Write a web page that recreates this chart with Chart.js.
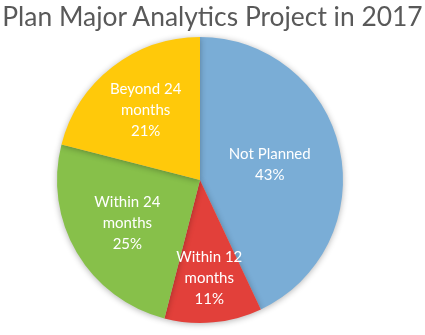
<!DOCTYPE html>
<html>
<head>
<meta charset="utf-8">
<script src="https://cdn.jsdelivr.net/npm/chart.js@4"></script>
<style>
  body { margin: 0; background: #fff; }
  #wrap { position: relative; width: 425px; height: 335px; }
  #title {
    position: absolute; left: 0; top: 0; width: 425px;
    text-align: center; font-family: Lato, sans-serif; font-size: 26.4px;
    line-height: 32px; color: #595959; white-space: nowrap;
  }
  #chart { position: absolute; left: 0; top: 0; }
</style>
</head>
<body>
<div id="wrap">
  <canvas id="chart" width="425" height="335"></canvas>
  <div id="title">Plan Major Analytics Project in 2017</div>
</div>
<script>
// Survey shares, clockwise from 12 o'clock
const categories = ['Not Planned', 'Within 12 months', 'Within 24 months', 'Beyond 24 months'];
const labelLines = [['Not Planned'], ['Within 12', 'months'], ['Within 24', 'months'], ['Beyond 24', 'months']];
const shares = [43, 11, 25, 21];
const sliceColors = ['#7AADD6', '#E2403A', '#87C04A', '#FFC90A'];

// how far out each label sits, as a fraction of the radius
const labelRadius = [0.5, 0.69, 0.59, 0.62];

// soft shadow under the pie
const pieShadow = {
    id: 'pieShadow',
    beforeDatasetDraw(chart) {
        const ctx = chart.ctx;
        ctx.save();
        ctx.shadowColor = 'rgba(0,0,0,0.3)';
        ctx.shadowBlur = 6;
        ctx.shadowOffsetY = 1;
    },
    afterDatasetDraw(chart) {
        chart.ctx.restore();
    }
};

// white labels with category and percentage inside each slice
const sliceLabels = {
    id: 'sliceLabels',
    afterDatasetsDraw(chart) {
        const ctx = chart.ctx;
        const meta = chart.getDatasetMeta(0);
        ctx.save();
        ctx.fillStyle = '#fff';
        ctx.font = '15px Lato, sans-serif';
        ctx.textAlign = 'center';
        ctx.textBaseline = 'middle';
        meta.data.forEach((arc, i) => {
            const mid = (arc.startAngle + arc.endAngle) / 2;
            const r = arc.outerRadius * labelRadius[i];
            const x = arc.x + Math.cos(mid) * r;
            const y = arc.y + Math.sin(mid) * r;
            const lines = labelLines[i].concat([shares[i] + '%']);
            const lh = 21;
            const top = y - (lines.length - 1) * lh / 2;
            lines.forEach((t, k) => ctx.fillText(t, x, top + k * lh));
        });
        ctx.restore();
    }
};

new Chart(document.getElementById('chart'), {
    type: 'pie',
    data: {
        labels: categories,
        datasets: [{
            data: shares,
            backgroundColor: sliceColors,
            borderWidth: 0
        }]
    },
    options: {
        responsive: false,
        animation: false,
        layout: { padding: { top: 37, bottom: 12, left: 0, right: 25 } },
        plugins: {
            legend: { display: false },
            tooltip: { enabled: false },
            title: { display: false }
        }
    },
    plugins: [pieShadow, sliceLabels]
});
</script>
</body>
</html>
